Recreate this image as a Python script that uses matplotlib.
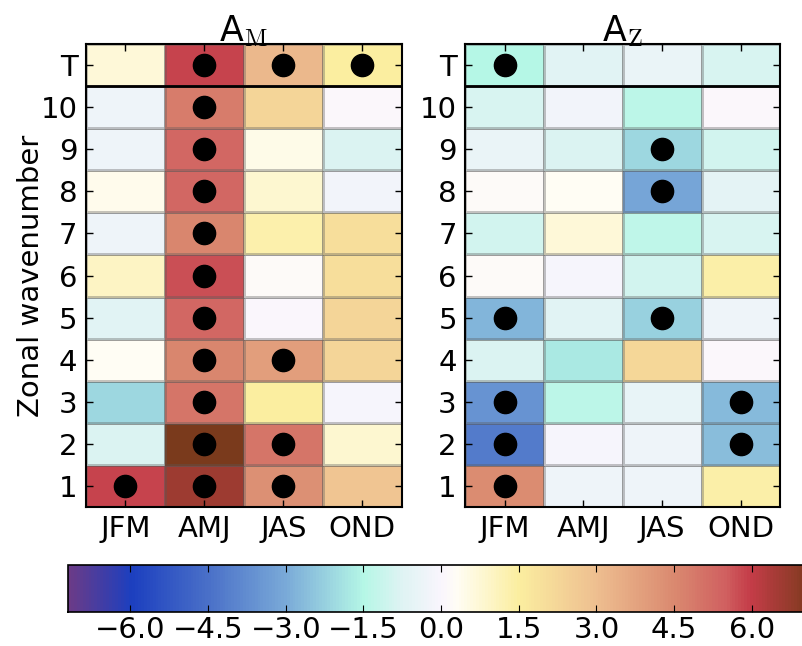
import numpy as np
import matplotlib
matplotlib.use("Agg")
import matplotlib.pyplot as plt
from matplotlib.colors import LinearSegmentedColormap, Normalize

plt.rcParams['font.family'] = 'DejaVu Sans'
plt.rcParams['mathtext.fontset'] = 'cm'

# rows bottom -> top: wavenumbers 1..10, then T (total)
row_labels = ['1', '2', '3', '4', '5', '6', '7', '8', '9', '10', 'T']
seasons = ['JFM', 'AMJ', 'JAS', 'OND']

# A_M values, one list per season (rows 1..10, T)
am_jfm = [5.9, -0.8, -2.1, 0.3, -0.7, 1.0, -0.3, 0.4, -0.3, -0.3, 0.7]
am_amj = [6.6, 7.2, 5.0, 4.6, 5.3, 5.7, 4.6, 5.3, 5.3, 4.8, 5.9]
am_jas = [4.3, 5.0, 1.5, 3.9, 0.05, 0.2, 1.3, 0.8, 0.5, 2.3, 3.2]
am_ond = [2.8, 0.8, -0.1, 2.3, 2.3, 2.0, 2.0, -0.2, -0.8, 0.1, 1.5]

# A_Z values
az_jfm = [4.4, -4.2, -3.6, -0.8, -2.8, 0.2, -1.0, 0.2, -0.4, -0.9, -1.5]
az_amj = [-0.3, -0.1, -1.4, -1.8, -0.7, -0.1, 0.7, 0.3, -0.8, -0.2, -0.7]
az_jas = [-0.3, -0.3, -0.5, 2.2, -2.2, -1.0, -1.3, -3.1, -2.1, -1.4, -0.4]
az_ond = [1.4, -2.6, -2.7, 0.1, -0.3, 1.4, -0.9, -0.6, -1.0, 0.1, -0.9]

# significant cells (season index, row index)
am_sig = [(0, 0), (1, 0), (2, 0), (1, 1), (2, 1), (1, 2), (1, 3), (2, 3),
          (1, 4), (1, 5), (1, 6), (1, 7), (1, 8), (1, 9), (1, 10), (2, 10), (3, 10)]
az_sig = [(0, 0), (0, 1), (3, 1), (0, 2), (3, 2), (0, 4), (2, 4),
          (2, 7), (2, 8), (0, 10)]

vmin, vmax = -7.2, 7.2
cb_ticks = [-6.0, -4.5, -3.0, -1.5, 0.0, 1.5, 3.0, 4.5, 6.0]

anchors = [
    (-7.2, '#6b3b87'), (-6.0, '#1c3fbf'), (-4.5, '#4a70c8'), (-3.0, '#7aaad8'),
    (-1.5, '#b5f7e6'), (-0.75, '#dff3f3'), (0.0, '#f9f5fd'), (0.3, '#fffdf5'),
    (1.5, '#fbeea0'), (3.0, '#eebf90'), (4.5, '#da8a70'), (5.5, '#d06060'),
    (6.0, '#c43c48'), (7.2, '#7a3a1c'),
]
cmap = LinearSegmentedColormap.from_list(
    'smile', [((v - vmin) / (vmax - vmin), c) for v, c in anchors])
norm = Normalize(vmin=vmin, vmax=vmax)

fig = plt.figure(figsize=(8.02, 6.46), dpi=100)
ax1 = fig.add_axes([0.107, 0.215, 0.394, 0.717])
ax2 = fig.add_axes([0.580, 0.215, 0.393, 0.717])
cax = fig.add_axes([0.085, 0.053, 0.93, 0.073])


def draw_panel(ax, cols, sig, title):
    data = np.array(cols).T  # rows x seasons
    xe = np.arange(len(seasons) + 1) + 0.5
    ye = np.arange(len(row_labels) + 1) + 0.5
    mesh = ax.pcolormesh(xe, ye, data, cmap=cmap, norm=norm,
                         edgecolors=(0.35, 0.35, 0.35, 0.35), linewidth=0.8)
    sx = [s + 1 for s, r in sig]
    sy = [r + 1 for s, r in sig]
    ax.plot(sx, sy, 'o', color='black', markersize=16, linestyle='none')
    ax.axhline(10.5, color='black', linewidth=2)
    ax.set_xlim(0.5, 4.5)
    ax.set_ylim(0.5, 11.5)
    ax.set_xticks(np.arange(1, 5))
    ax.set_xticklabels(seasons, fontsize=21)
    ax.set_yticks(np.arange(1, 12))
    ax.set_yticklabels(row_labels, fontsize=21)
    ax.tick_params(direction='in', top=True, right=True, length=5, width=1, pad=6)
    ax.set_title(title, fontsize=25, pad=2)
    for sp in ax.spines.values():
        sp.set_linewidth(1.5)
    return mesh


mesh = draw_panel(ax1, [am_jfm, am_amj, am_jas, am_ond], am_sig, r'A$_\mathrm{M}$')
draw_panel(ax2, [az_jfm, az_amj, az_jas, az_ond], az_sig, r'A$_\mathrm{Z}$')
ax1.set_ylabel('Zonal wavenumber', fontsize=21, labelpad=-3)

cb = fig.colorbar(mesh, cax=cax, orientation='horizontal', ticks=cb_ticks)
cb.ax.set_xticklabels([f'{t:.1f}'.replace('-', '\u2212') for t in cb_ticks],
                      fontsize=21)
cb.ax.tick_params(direction='in', length=5, top=True, pad=3)
cb.outline.set_linewidth(1.2)

plt.savefig('out.png', dpi=100)
plt.close()
